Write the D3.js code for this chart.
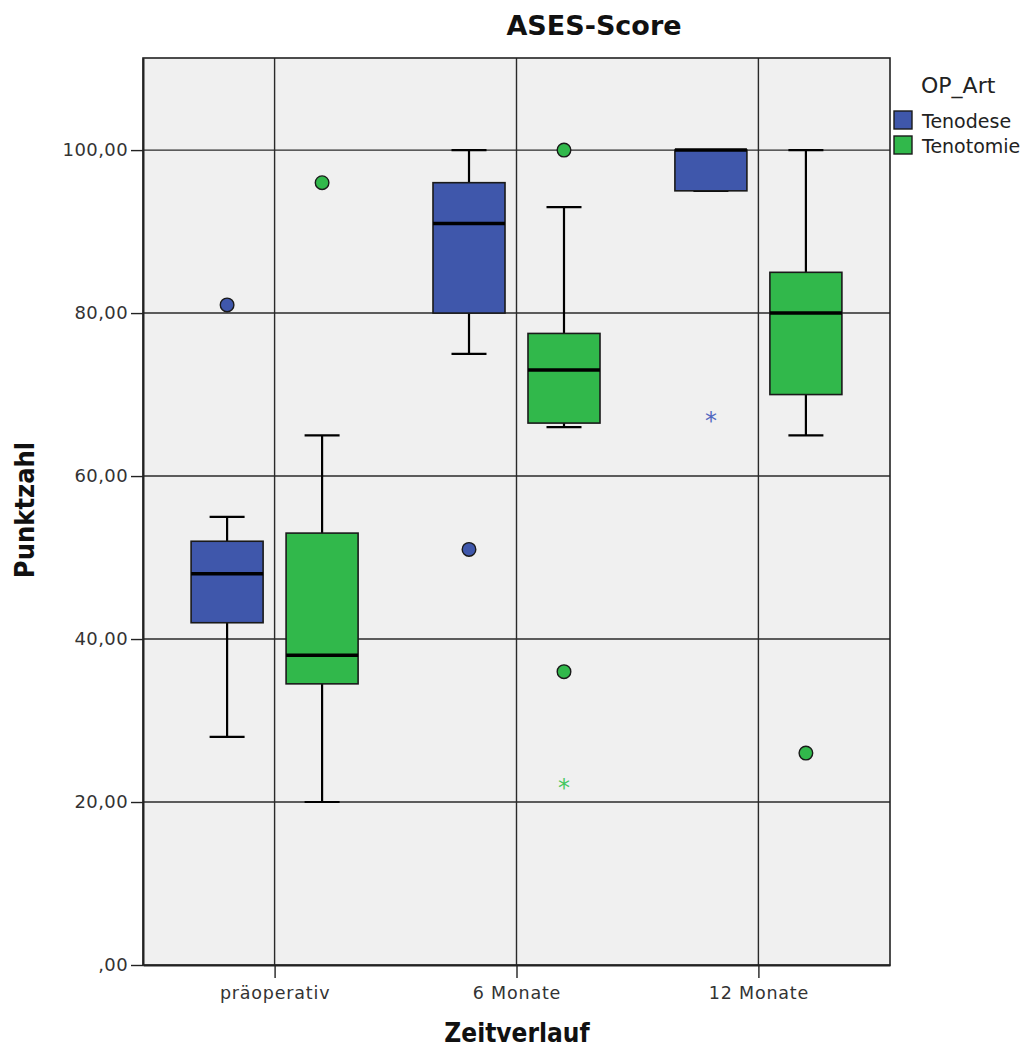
<!DOCTYPE html>
<html>
<head>
<meta charset="utf-8">
<script src="https://cdn.jsdelivr.net/npm/d3@7"></script>
<style>
  html, body { margin: 0; padding: 0; background: #ffffff; }
  svg { display: block; }
</style>
</head>
<body>
<script>
// Zeitpunkte und Gruppen
const categories = ["präoperativ", "6 Monate", "12 Monate"];
const series = ["Tenodese", "Tenotomie"];

// Kennwerte der Boxplots je Gruppe (Reihenfolge wie categories)
const tenodeseLow    = [28, 75, 95];
const tenodeseQ1     = [42, 80, 95];
const tenodeseMedian = [48, 91, 100];
const tenodeseQ3     = [52, 96, 100];
const tenodeseHigh   = [55, 100, 100];

const tenotomieLow    = [20, 66, 65];
const tenotomieQ1     = [34.5, 66.5, 70];
const tenotomieMedian = [38, 73, 80];
const tenotomieQ3     = [53, 77.5, 85];
const tenotomieHigh   = [65, 93, 100];

// Ausreißer (circle) und Extremwerte (star)
const outlierSeries   = ["Tenodese", "Tenotomie", "Tenodese", "Tenotomie", "Tenotomie", "Tenotomie", "Tenodese", "Tenotomie"];
const outlierCategory = ["präoperativ", "präoperativ", "6 Monate", "6 Monate", "6 Monate", "6 Monate", "12 Monate", "12 Monate"];
const outlierValue    = [81, 96, 51, 100, 36, 22, 67, 26];
const outlierKind     = ["circle", "circle", "circle", "circle", "circle", "star", "star", "circle"];

const yTicks = [0, 20, 40, 60, 80, 100];
const yTickLabels = [",00", "20,00", "40,00", "60,00", "80,00", "100,00"];

const colors = { "Tenodese": "#3f57ab", "Tenotomie": "#31b84b" };

// Tabelle für das Zeichnen
const stats = {
  "Tenodese":  { low: tenodeseLow, q1: tenodeseQ1, med: tenodeseMedian, q3: tenodeseQ3, high: tenodeseHigh },
  "Tenotomie": { low: tenotomieLow, q1: tenotomieQ1, med: tenotomieMedian, q3: tenotomieQ3, high: tenotomieHigh }
};
const boxes = [];
series.forEach(s => categories.forEach((c, i) => boxes.push({
  series: s, category: c,
  low: stats[s].low[i], q1: stats[s].q1[i], med: stats[s].med[i], q3: stats[s].q3[i], high: stats[s].high[i]
})));
const outliers = outlierValue.map((v, i) => ({
  series: outlierSeries[i], category: outlierCategory[i], value: v, kind: outlierKind[i]
}));

const W = 1033, H = 1050;
const plot = { left: 143, right: 890, top: 58, bottom: 965 };

const svg = d3.select("body").append("svg").attr("width", W).attr("height", H);

const x = d3.scalePoint().domain(categories).range([plot.left, plot.right]).padding(0.544);
const xSub = d3.scaleBand().domain(series).range([-83.5, 83.5]).paddingInner(0.242).paddingOuter(0);
const y = d3.scaleLinear().domain([0, 111.3]).range([plot.bottom, plot.top]);

// Plotfläche
svg.append("rect")
  .attr("x", plot.left).attr("y", plot.top)
  .attr("width", plot.right - plot.left).attr("height", plot.bottom - plot.top)
  .attr("fill", "#f0f0f0");

// Gitterlinien
const grid = svg.append("g").attr("stroke", "#2a2a2a").attr("stroke-width", 1.4);
grid.selectAll("line.h").data(yTicks.filter(d => d > 0)).join("line")
  .attr("class", "h")
  .attr("x1", plot.left).attr("x2", plot.right)
  .attr("y1", d => y(d)).attr("y2", d => y(d));
grid.selectAll("line.v").data(categories).join("line")
  .attr("class", "v")
  .attr("x1", d => x(d)).attr("x2", d => x(d))
  .attr("y1", plot.top).attr("y2", plot.bottom);

// Rahmen
svg.append("rect")
  .attr("x", plot.left).attr("y", plot.top)
  .attr("width", plot.right - plot.left).attr("height", plot.bottom - plot.top)
  .attr("fill", "none").attr("stroke", "#222").attr("stroke-width", 1.6);

// Achsen
const yAxis = d3.axisLeft(y).tickValues(yTicks)
  .tickFormat((d, i) => yTickLabels[i]).tickSize(12).tickSizeOuter(0).tickPadding(3);
const gy = svg.append("g").attr("transform", `translate(${plot.left},0)`).call(yAxis);
gy.select(".domain").attr("stroke", "#222").attr("stroke-width", 2);
gy.selectAll(".tick line").attr("stroke", "#222").attr("stroke-width", 1.4);
gy.selectAll(".tick text")
  .attr("font-family", "'DejaVu Sans', sans-serif").attr("font-size", 18)
  .attr("letter-spacing", "0.4px").attr("fill", "#333");

const xAxis = d3.axisBottom(x).tickSize(13).tickSizeOuter(0).tickPadding(9);
const gx = svg.append("g").attr("transform", `translate(0,${plot.bottom})`).call(xAxis);
gx.select(".domain").attr("stroke", "#222").attr("stroke-width", 2);
gx.selectAll(".tick line").attr("stroke", "#222").attr("stroke-width", 1.4);
gx.selectAll(".tick text")
  .attr("font-family", "'DejaVu Sans', sans-serif")
  .attr("font-size", 17.5).attr("letter-spacing", "0.8px").attr("fill", "#333");

// Boxplots
const capW = 35;
const g = svg.append("g");
const bx = d => x(d.category) + xSub(d.series);
const bw = xSub.bandwidth();

const bg = g.selectAll("g.box").data(boxes).join("g").attr("class", "box");
// Whisker
bg.append("line")
  .attr("x1", d => bx(d) + bw / 2).attr("x2", d => bx(d) + bw / 2)
  .attr("y1", d => y(d.high)).attr("y2", d => y(d.q3))
  .attr("stroke", "#000").attr("stroke-width", 2.2);
bg.append("line")
  .attr("x1", d => bx(d) + bw / 2).attr("x2", d => bx(d) + bw / 2)
  .attr("y1", d => y(d.q1)).attr("y2", d => y(d.low))
  .attr("stroke", "#000").attr("stroke-width", 2.2);
bg.append("line")
  .attr("x1", d => bx(d) + bw / 2 - capW / 2).attr("x2", d => bx(d) + bw / 2 + capW / 2)
  .attr("y1", d => y(d.high)).attr("y2", d => y(d.high))
  .attr("stroke", "#000").attr("stroke-width", 2.2);
bg.append("line")
  .attr("x1", d => bx(d) + bw / 2 - capW / 2).attr("x2", d => bx(d) + bw / 2 + capW / 2)
  .attr("y1", d => y(d.low)).attr("y2", d => y(d.low))
  .attr("stroke", "#000").attr("stroke-width", 2.2);
// Box
bg.append("rect")
  .attr("x", d => bx(d)).attr("width", bw)
  .attr("y", d => y(d.q3)).attr("height", d => y(d.q1) - y(d.q3))
  .attr("fill", d => colors[d.series])
  .attr("stroke", "#1a1a1a").attr("stroke-width", 1.6);
// Median
bg.append("line")
  .attr("x1", d => bx(d)).attr("x2", d => bx(d) + bw)
  .attr("y1", d => y(d.med)).attr("y2", d => y(d.med))
  .attr("stroke", "#000").attr("stroke-width", 3.5);

// Ausreißer
g.selectAll("circle.out").data(outliers.filter(d => d.kind === "circle")).join("circle")
  .attr("class", "out")
  .attr("cx", d => x(d.category) + xSub(d.series) + bw / 2)
  .attr("cy", d => y(d.value))
  .attr("r", 6.8)
  .attr("fill", d => colors[d.series])
  .attr("stroke", "#1a1a1a").attr("stroke-width", 1.4);

// Extremwerte
g.selectAll("text.star").data(outliers.filter(d => d.kind === "star")).join("text")
  .attr("class", "star")
  .attr("x", d => x(d.category) + xSub(d.series) + bw / 2)
  .attr("y", d => y(d.value) + 10)
  .attr("text-anchor", "middle")
  .attr("font-family", "'DejaVu Sans', sans-serif")
  .attr("font-size", 24)
  .attr("fill", d => d.series === "Tenodese" ? "#5268c0" : "#45c862")
  .text("*");

// Titel
svg.append("text")
  .attr("x", 594).attr("y", 35)
  .attr("text-anchor", "middle")
  .attr("font-family", "'DejaVu Sans', sans-serif")
  .attr("font-weight", "bold").attr("font-size", 27).attr("fill", "#111")
  .text("ASES-Score");

// Achsentitel
svg.append("text")
  .attr("transform", "translate(34,510) rotate(-90)")
  .attr("text-anchor", "middle")
  .attr("font-family", "'DejaVu Sans Condensed', 'Liberation Sans Narrow', sans-serif")
  .attr("font-weight", "bold").attr("font-size", 27).attr("fill", "#111")
  .text("Punktzahl");
svg.append("text")
  .attr("x", 517).attr("y", 1042)
  .attr("text-anchor", "middle")
  .attr("font-family", "'DejaVu Sans Condensed', 'Liberation Sans Narrow', sans-serif")
  .attr("font-weight", "bold").attr("font-size", 26).attr("fill", "#111")
  .text("Zeitverlauf");

// Legende
const leg = svg.append("g");
leg.append("text")
  .attr("x", 921).attr("y", 93)
  .attr("font-family", "'DejaVu Sans', sans-serif")
  .attr("font-size", 22).attr("fill", "#222")
  .text("OP_Art");
const li = leg.selectAll("g.item").data(series).join("g")
  .attr("class", "item")
  .attr("transform", (d, i) => `translate(894,${111 + i * 25})`);
li.append("rect")
  .attr("width", 18).attr("height", 18)
  .attr("fill", d => colors[d]).attr("stroke", "#1a1a1a").attr("stroke-width", 1.4);
li.append("text")
  .attr("x", 28).attr("y", 17)
  .attr("font-family", "'DejaVu Sans', sans-serif")
  .attr("font-size", 19).attr("fill", "#222")
  .text(d => d);
</script>
</body>
</html>
